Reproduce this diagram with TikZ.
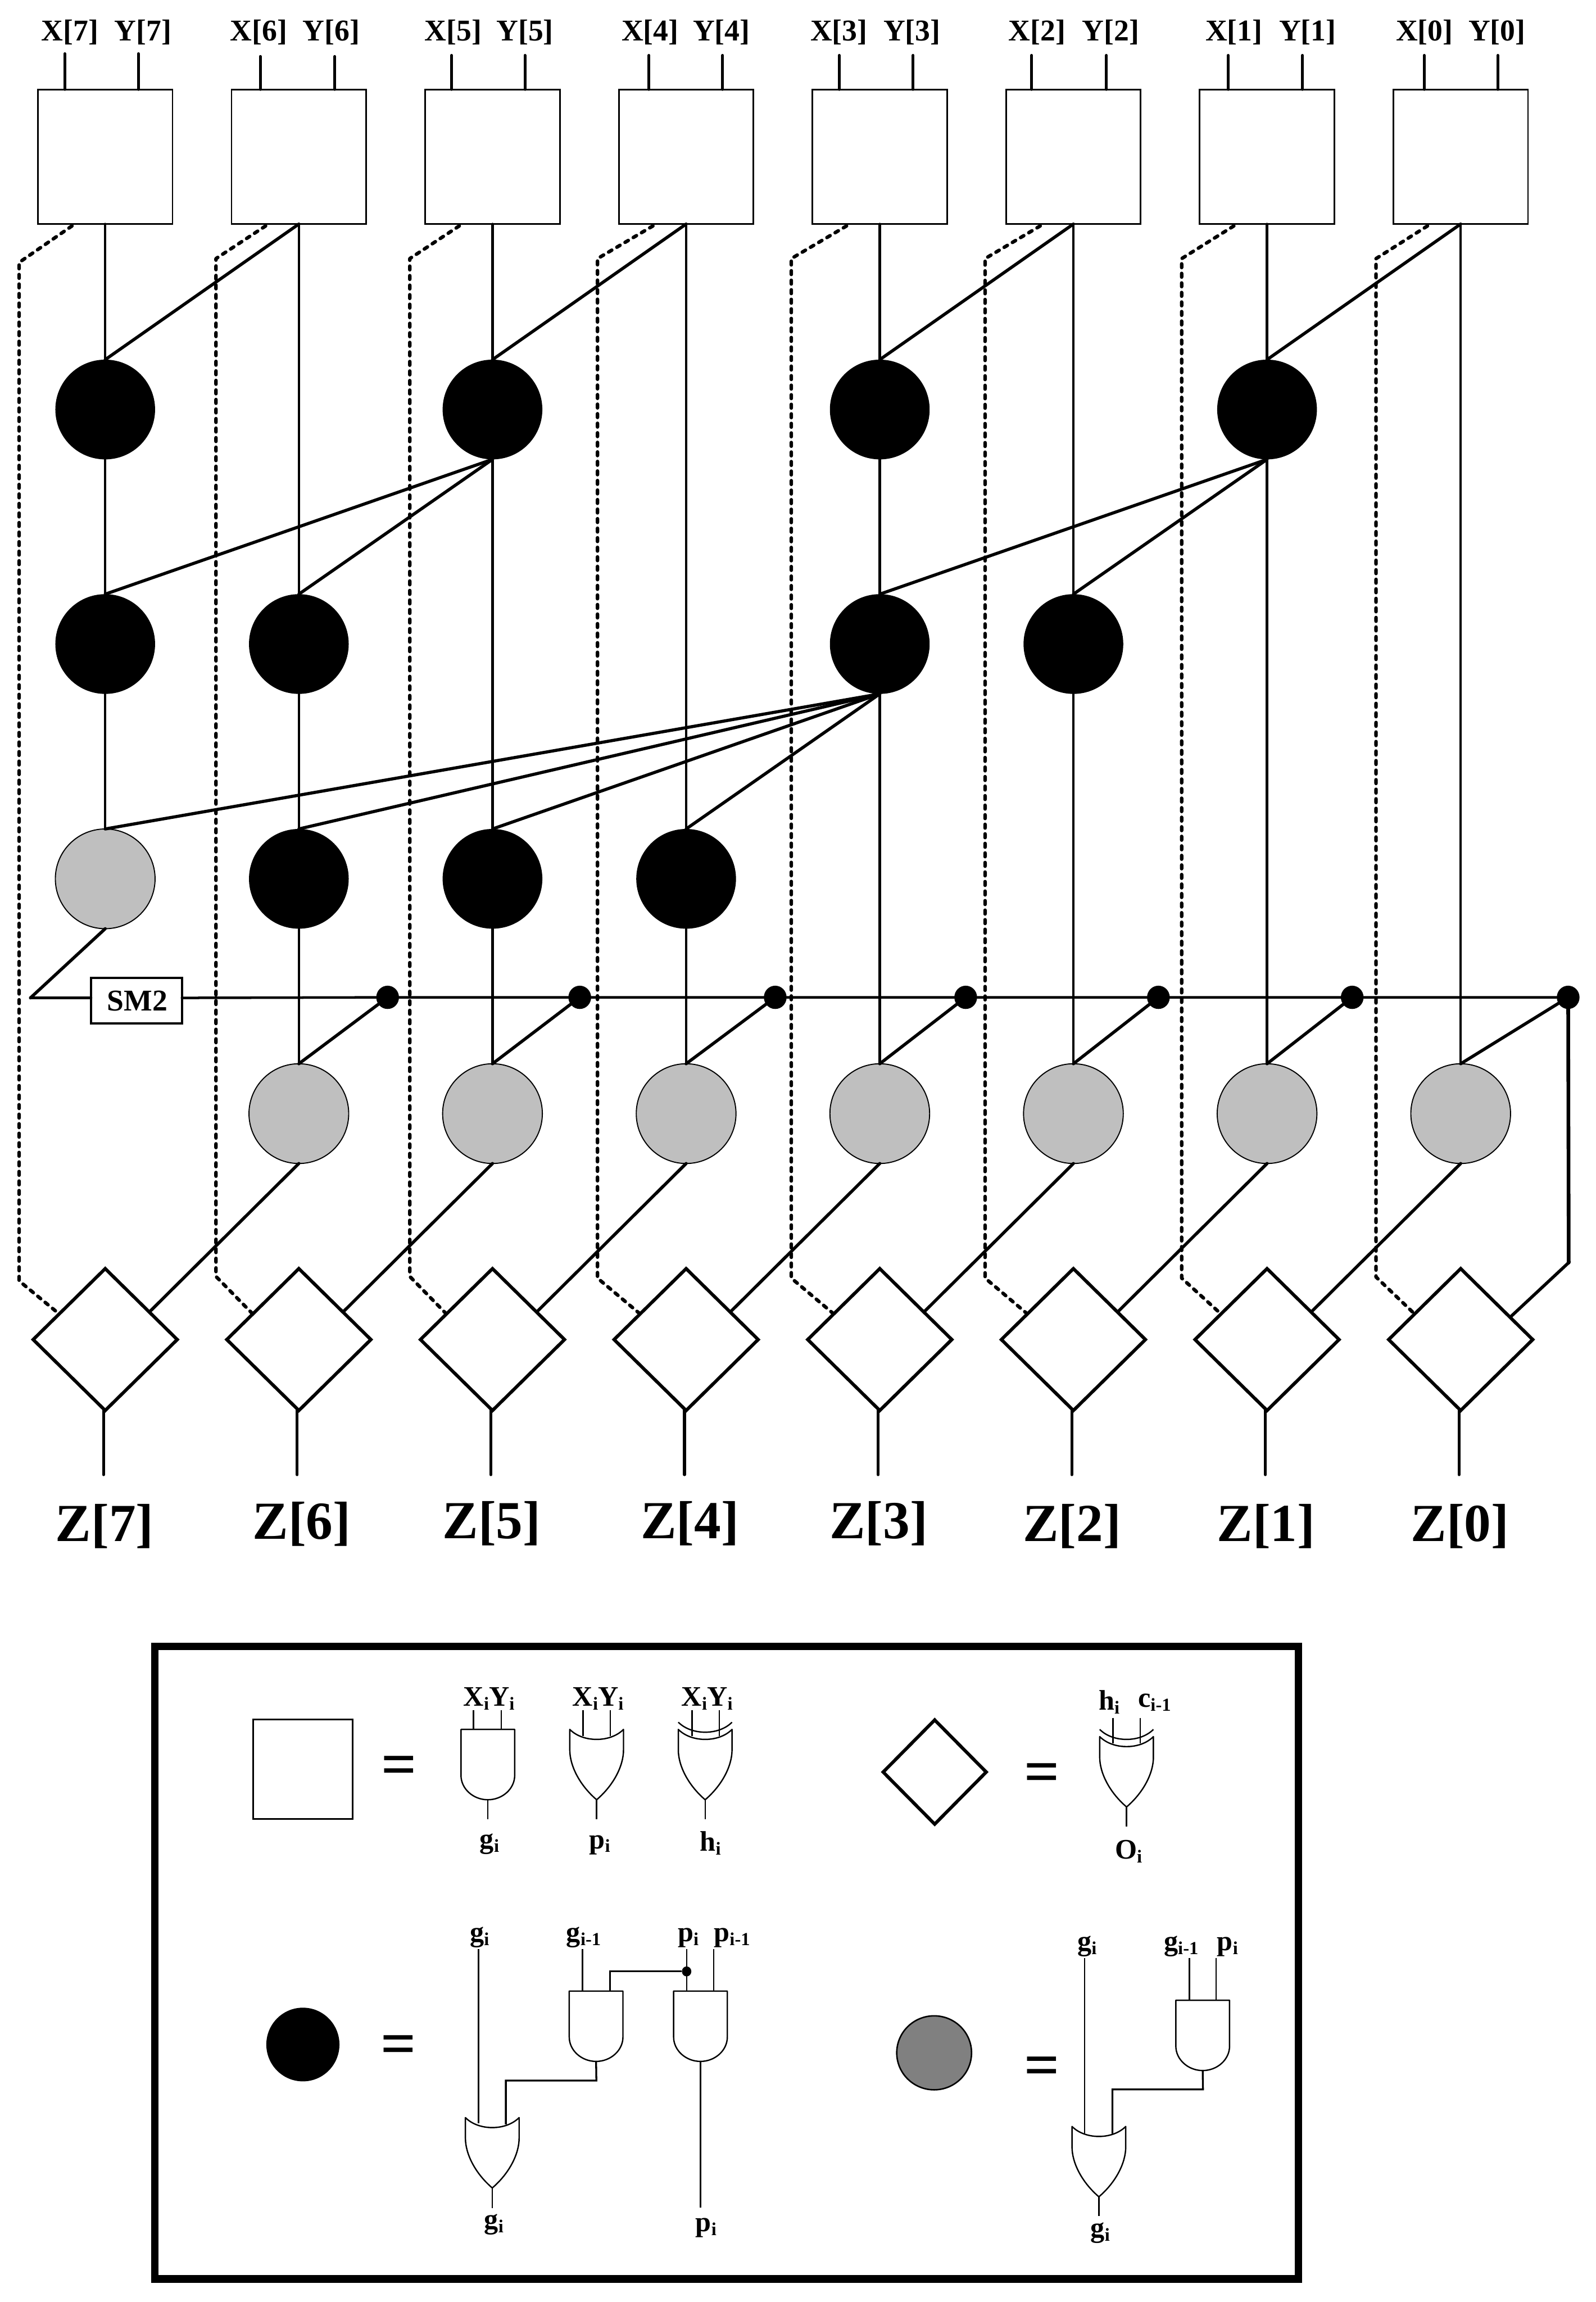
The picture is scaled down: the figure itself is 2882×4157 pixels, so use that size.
\documentclass[tikz,border=0pt]{standalone}
\usepackage{fontspec}
\setmainfont{Liberation Serif}[BoldFont={Liberation Serif Bold}]
\usetikzlibrary{shapes.geometric}
\newcommand{\sbs}[1]{\raisebox{-2pt}{\fontsize{9.4}{9.4}\selectfont #1}}
\newcommand{\inlabfont}{\fontsize{15.5}{15.5}\selectfont\bfseries}
\newcommand{\outlabfont}{\fontsize{27.5}{27.5}\selectfont\bfseries}
\newcommand{\leglabfont}{\fontsize{14.5}{14.5}\selectfont\bfseries}
\definecolor{lgray}{HTML}{BFBFBF}
\definecolor{mgray}{HTML}{808080}
\tikzset{
  wire/.style={line width=1.3pt,line cap=round,line join=round},
  diagwire/.style={line width=1.6pt,line cap=round,line join=round},
  thickwire/.style={line width=1.9pt,line cap=round},
  tickwire/.style={line width=1.5pt,line cap=round},
  dashwire/.style={line width=1.8pt,line cap=round,line join=round,dash pattern=on 1.9pt off 3pt},
  thinw/.style={line width=.7pt},
  pinwire/.style={line width=.95pt},
  base/.style={inner sep=0,outer sep=0},
  boxn/.style={base,draw,line width=.85pt,fill=white,minimum size=2.43cm},
  blk/.style={base,circle,fill=black,minimum size=1.8cm},
  gry/.style={base,circle,draw,line width=.55pt,fill=lgray,minimum size=1.8cm},
  dia/.style={base,diamond,draw,line width=1.7pt,line join=miter,fill=white,minimum width=2.6cm,minimum height=2.56cm},
  junc/.style={base,ellipse,fill=black,minimum width=.41cm,minimum height=.42cm},
  smbox/.style={base,draw,line width=1.15pt,fill=white,minimum width=1.64cm,minimum height=.82cm,font=\inlabfont},
  inlab/.style={base,anchor=base,font=\inlabfont},
  outlab/.style={base,anchor=base,font=\outlabfont},
  leglab/.style={base,anchor=base,font=\leglabfont},
  eqn/.style={base,font=\fontsize{32}{32}\selectfont\bfseries},
  gate/.style={line width=.7pt,line join=round,fill=white},
  andg/.pic={
    \draw[gate] (0,0) -- (97,0) -- (97,83) .. controls (97,107) and (75,127) .. (48.5,127)
      .. controls (22,127) and (0,107) .. (0,83) -- cycle;
    \coordinate (-out) at (48.5,127);
  },
  org/.pic={
    \draw[gate] (0,0) .. controls (12,12) and (30,18) .. (48.5,18) .. controls (67,18) and (85,12) .. (97,0)
      -- (97,37) .. controls (97,65) and (80,100) .. (48.5,127)
      .. controls (17,100) and (0,65) .. (0,37) -- cycle;
    \coordinate (-out) at (48.5,127);
  },
  xorg/.pic={
    \draw[gate] (0,0) .. controls (12,12) and (30,18) .. (48.5,18) .. controls (67,18) and (85,12) .. (97,0)
      -- (97,37) .. controls (97,65) and (80,100) .. (48.5,127)
      .. controls (17,100) and (0,65) .. (0,37) -- cycle;
    \draw[gate,fill=none] (0,-13) .. controls (12,-1) and (30,5) .. (48.5,5) .. controls (67,5) and (85,-1) .. (97,-13);
    \coordinate (-out) at (48.5,127);
  },
}
\begin{document}
\begin{tikzpicture}[x=0.01cm,y=-0.01cm]
\useasboundingbox[fill=white] (0,0) rectangle (2882,4157);

% ---------- column positions
\foreach \i in {0,...,7}{
  \pgfmathsetmacro{\cx}{190+349.7*(7-\i)}
  \node[boxn] (b\i) at (\cx,283) {};
  \node[dia] (d\i) at (\cx,2419) {};
  \coordinate (zs\i) at ({\cx-3},2547);
  \coordinate (ze\i) at ({\cx-3},2663);
  \draw[tickwire] (zs\i) -- (ze\i);
  \coordinate (dne\i) at ({\cx+80},2369);
  \coordinate (dnw\i) at ({\cx-84},2372);
  \coordinate (dst\i) at ({\cx-60},408);
}

% ---------- inputs
\foreach \i/\xa/\ya/\xb/\yb/\ta/\tb in {
  7/117/97/250/97/126.5/258,
  6/470/102/604.6/102/467.5/598,
  5/815.5/100/948/100/818.5/948,
  4/1172/100/1305/100/1174/1303,
  3/1515.5/100/1649/100/1515/1647,
  2/1863/100/1998/100/1873/2006,
  1/2218/100/2352/100/2228.5/2361.5,
  0/2572/100/2705/100/2572.5/2703.5}{
  \node[inlab] (xl\i) at (\ta,74) {X[\i]};
  \node[inlab] (yl\i) at (\tb,74) {Y[\i]};
  \coordinate (xt\i) at (\xa,\ya);
  \coordinate (yt\i) at (\xb,\yb);
  \draw[tickwire] (xt\i) -- (xt\i |- b\i.north);
  \draw[tickwire] (yt\i) -- (yt\i |- b\i.north);
}

% ---------- outputs
\foreach \i/\tx/\ty in {7/189/2783,6/545/2779,5/888/2778,4/1246/2778,3/1587/2778,2/1936/2783,1/2286.5/2783,0/2636.5/2783}{
  \node[outlab] (zl\i) at (\tx,\ty) {Z[\i]};
}

% ---------- prefix nodes
\foreach \i in {7,5,3,1}{ \pgfmathsetmacro{\cx}{190+349.7*(7-\i)} \node[blk] (ra\i) at (\cx,739.5) {}; }
\foreach \i in {7,6,3,2}{ \pgfmathsetmacro{\cx}{190+349.7*(7-\i)} \node[blk] (rb\i) at (\cx,1163) {}; }
\foreach \i in {6,5,4}{ \pgfmathsetmacro{\cx}{190+349.7*(7-\i)} \node[blk] (rc\i) at (\cx,1587) {}; }
\node[gry] (rc7) at (190,1587) {};
\foreach \i in {0,...,6}{ \pgfmathsetmacro{\cx}{190+349.7*(7-\i)} \node[gry] (rd\i) at (\cx,2011) {}; }

% ---------- bus
\node[smbox] (sm) at (246.5,1807) {\hspace{1pt}SM2};
\coordinate (busl) at (55,1802);
\foreach \i/\x in {6/700,5/1047,4/1400,3/1744,2/2092,1/2442,0/2832}{
  \node[junc] (j\i) at (\x,1801) {};
}
\draw[diagwire] (rc7.south) -- (busl);
\draw[wire] (busl) -- (busl -| sm.west);
\draw[wire] (busl -| sm.east) -- (j6) -- (j5) -- (j4) -- (j3) -- (j2) -- (j1) -- (j0);
\foreach \i in {0,...,6}{ \draw[diagwire] (rd\i.north) -- (j\i); }

% ---------- vertical wires
\foreach \a/\b in {b7/ra7,ra7/rb7,rb7/rc7,b6/rb6,rb6/rc6,rc6/rd6,b5/ra5,ra5/rc5,rc5/rd5,
                   b4/rc4,rc4/rd4,b3/ra3,ra3/rb3,rb3/rd3,b2/rb2,rb2/rd2,b1/ra1,ra1/rd1,b0/rd0}{
  \draw[wire] (\a.south) -- (\b.north);
}
% ---------- diagonal wires
\foreach \a/\b in {b6/ra7,b4/ra5,b2/ra3,b0/ra1,ra5/rb7,ra5/rb6,ra1/rb3,ra1/rb2,rb3/rc7,rb3/rc6,rb3/rc5,rb3/rc4}{
  \draw[diagwire] (\a.south) -- (\b.north);
}
% ---------- gray to sum
\foreach \i/\j in {6/7,5/6,4/5,3/4,2/3,1/2,0/1}{ \draw[diagwire] (rd\i.south) -- (dne\j); }
\coordinate (cin) at (2833,2280);
\coordinate (cine) at (2729,2377);
\draw[thickwire] (j0) -- (cin);
\draw[diagwire] (cin) -- (cine);

% ---------- dashed half-sum paths
\foreach \i/\xv/\yt/\yb in {7/34.5/474/2313,6/390/467/2305,5/740/467/2305,4/1079/467/2308,3/1429/467/2308,2/1779/467/2308,1/2134/467/2308,0/2485/467/2306}{
  \coordinate (dta\i) at (\xv,\yt);
  \coordinate (dtb\i) at (\xv,\yb);
  \draw[dashwire] (dst\i) -- (dta\i) -- (dtb\i) -- (dnw\i);
}

% ---------- legend frame
\node[base,draw,line width=3.85pt,minimum width=20.635cm,minimum height=11.415cm] (legend) at (1312.25,3544.25) {};

% ---------- legend symbols
\node[boxn,minimum width=1.795cm,minimum height=1.8cm] (lbox) at (547,3195) {};
\node[base,diamond,draw,line width=1.7pt,minimum width=1.86cm,minimum height=1.88cm] (ldia) at (1688,3200) {};
\node[base,ellipse,fill=black,minimum width=1.32cm,minimum height=1.33cm] (lblk) at (547,3692) {};
\node[base,ellipse,draw,line width=.75pt,fill=mgray,minimum width=1.35cm,minimum height=1.335cm] (lgry) at (1687,3707) {};
\node[eqn] (eq1) at (721,3197) {=};
\node[eqn] (eq2) at (1882,3211) {=};
\node[eqn] (eq3) at (720,3702) {=};
\node[eqn] (eq4) at (1882,3740) {=};

% ---------- legend pin wires (drawn under the gates' ends)
\foreach \n/\x/\ya/\yb in {
  a/855/3088/3123, b/905/3088/3123,
  c/1053/3088/3135, d/1102/3088/3135,
  e/1250/3088/3135, f/1299/3088/3135,
  g/2010/3102/3148, h/2059/3102/3148,
  k/1052/3520/3595.5, l/1289/3520/3595.5,
  m/2148/3536/3612, n/2196/3536/3612}{
  \coordinate (w\n a) at (\x,\ya);
  \coordinate (w\n b) at (\x,\yb);
  \draw[thinw] (w\n a) -- (w\n b);
}

% ---------- legend gates
\pic (g1) at (832.5,3123) {andg};
\pic (g2) at (1029,3123) {org};
\pic (g3) at (1225,3123) {xorg};
\pic (g4) at (1986,3136) {xorg};
\pic (g5) at (840.5,3824) {org};
\pic (g6) at (1028,3595.5) {andg};
\pic (g7) at (1216.5,3595.5) {andg};
\pic (g8) at (1936,3840) {org};
\pic (g9) at (2123.5,3612) {andg};

% pins drawn again on top where they cross the gate arcs
\foreach \n in {c,d,e,f,g,h}{ \draw[thinw] (w\n a) -- (w\n b); }

% outputs of the gates
\foreach \g/\y in {g1/3285,g2/3285,g3/3285,g4/3298.6,g5/3987,g8/4002}{
  \coordinate (\g e) at (0,\y);
  \draw[thinw] (\g-out) -- (\g-out |- \g e);
}
\coordinate (g7e) at (1264,3986);
\draw[thinw] (g7-out) -- (g7-out |- g7e);

% ---------- composite wiring, black cell
\coordinate (ga) at (864,3520);
\coordinate (gb) at (864,3834);
\draw[thinw] (ga) -- (gb);
\coordinate (pd) at (1240,3520);
\coordinate (pe) at (1240,3595.5);
\node[base,ellipse,fill=black,minimum width=.17cm,minimum height=.18cm] (pj) at (1240,3560) {};
\draw[thinw] (pd) -- (pe);
\coordinate (fa) at (1101.5,3595.5);
\coordinate (fb) at (1101.5,3560);
\draw[pinwire] (fa) -- (fb) -- (pj);
\coordinate (ha) at (1077,3757);
\coordinate (hb) at (913.5,3757);
\coordinate (hc) at (913.5,3836);
\draw[pinwire] (g6-out) -- (ha) -- (hb) -- (hc);

% ---------- composite wiring, gray cell
\coordinate (ia) at (1959,3536);
\coordinate (ib) at (1959,3852);
\draw[thinw] (ia) -- (ib);
\coordinate (ka) at (2172.5,3773);
\coordinate (kb) at (2009,3773);
\coordinate (kc) at (2009,3853);
\draw[pinwire] (g9-out) -- (ka) -- (kb) -- (kc);

% ---------- legend labels
\node[leglab] (t1) at (883,3081) {X\sbs{i}Y\sbs{i}};
\node[leglab] (t2) at (1080,3081) {X\sbs{i}Y\sbs{i}};
\node[leglab] (t3) at (1277,3081) {X\sbs{i}Y\sbs{i}};
\node[leglab] (t4) at (884,3337) {g\sbs{i}};
\node[leglab] (t5) at (1083,3338) {p\sbs{i}};
\node[leglab] (t6) at (1283,3343) {h\sbs{i}};
\node[leglab] (t7) at (2003,3088) {h\sbs{i}};
\node[leglab] (t8) at (2085,3083) {c\sbs{i-1}};
\node[leglab] (t9) at (2038,3357) {O\sbs{i}};
\node[leglab] (t10) at (866,3506) {g\sbs{i}};
\node[leglab] (t11) at (1054,3506) {g\sbs{i-1}};
\node[leglab] (t12) at (1243,3506) {p\sbs{i}};
\node[leglab] (t13) at (1322,3506) {p\sbs{i-1}};
\node[leglab] (t14) at (892,4025) {g\sbs{i}};
\node[leglab] (t15) at (1275,4030) {p\sbs{i}};
\node[leglab] (t16) at (1963,3522) {g\sbs{i}};
\node[leglab] (t17) at (2133,3522) {g\sbs{i-1}};
\node[leglab] (t18) at (2217,3522) {p\sbs{i}};
\node[leglab] (t19) at (1987,4040) {g\sbs{i}};
\end{tikzpicture}
\end{document}
